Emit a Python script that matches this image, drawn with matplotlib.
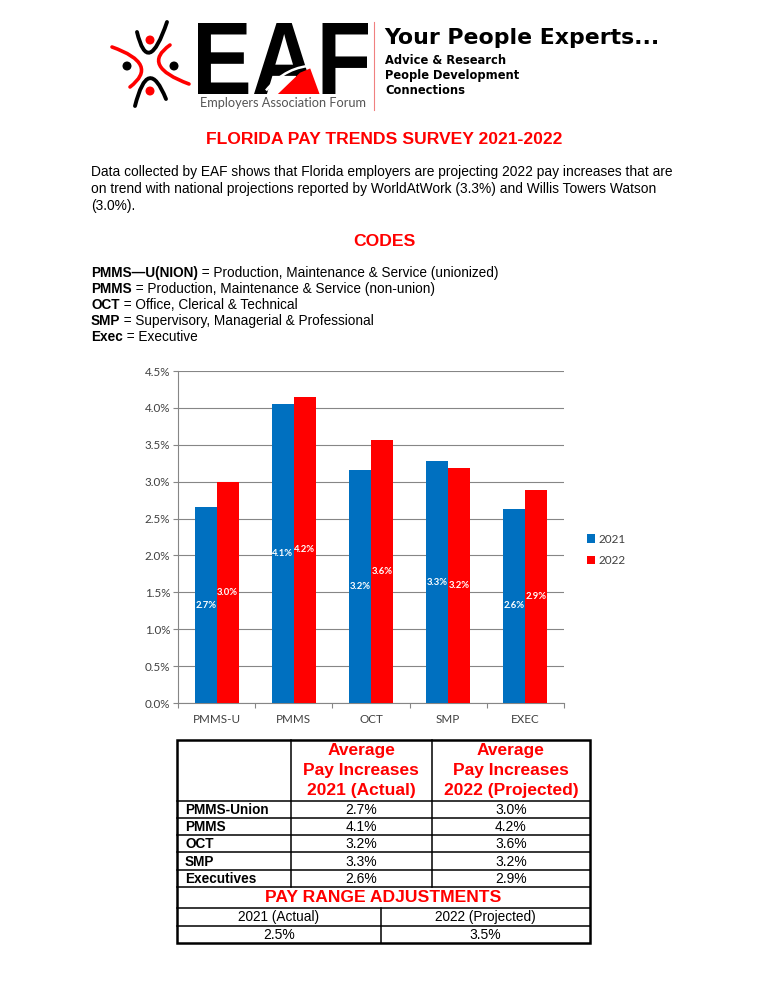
import numpy as np
import matplotlib
matplotlib.use("Agg")
import matplotlib.pyplot as plt
from matplotlib.path import Path
from matplotlib.patches import PathPatch, Polygon, Rectangle
from matplotlib.textpath import TextPath
from matplotlib.font_manager import FontProperties
from matplotlib.transforms import Affine2D

# ---------------- data ----------------
categories = ["PMMS-U", "PMMS", "OCT", "SMP", "EXEC"]
series_names = ["2021", "2022"]
values_2021 = [2.65, 4.05, 3.16, 3.28, 2.63]
values_2022 = [3.00, 4.15, 3.57, 3.19, 2.89]
labels_2021 = ["2.7%", "4.1%", "3.2%", "3.3%", "2.6%"]
labels_2022 = ["3.0%", "4.2%", "3.6%", "3.2%", "2.9%"]
y_ticks = [0.0, 0.5, 1.0, 1.5, 2.0, 2.5, 3.0, 3.5, 4.0, 4.5]

table_rows = ["PMMS-Union", "PMMS", "OCT", "SMP", "Executives"]
table_2021 = ["2.7%", "4.1%", "3.2%", "3.3%", "2.6%"]
table_2022 = ["3.0%", "4.2%", "3.6%", "3.2%", "2.9%"]
range_headers = ["2021 (Actual)", "2022 (Projected)"]
range_values = ["2.5%", "3.5%"]

codes_bold = ["PMMS\u2014U(NION)", "PMMS", "OCT", "SMP", "Exec"]
codes_text = [" = Production, Maintenance & Service (unionized)",
              " = Production, Maintenance & Service (non-union)",
              " = Office, Clerical & Technical",
              " = Supervisory, Managerial & Professional",
              " = Executive"]
body_lines = ["Data collected by EAF shows that Florida employers are projecting 2022 pay increases that are",
              "on trend with national projections reported by WorldAtWork (3.3%) and Willis Towers Watson",
              "(3.0%)."]

BLUE = "#0070C0"
RED = "#FF0000"
GRID = "#868686"
TXT = "#404040"
W, H = 768, 994

fig = plt.figure(figsize=(W / 100, H / 100), dpi=100)
fig.patch.set_facecolor("white")
bg = fig.add_axes([0, 0, 1, 1])
bg.set_xlim(0, W)
bg.set_ylim(H, 0)
bg.axis("off")

ARIAL = "Liberation Sans"

# ---------------- logo ----------------
def qcurve(p0, c, p1, color, lw):
    path = Path([p0, c, p1], [Path.MOVETO, Path.CURVE3, Path.CURVE3])
    bg.add_patch(PathPatch(path, facecolor="none", edgecolor=color, lw=lw, capstyle="round"))

qcurve((137, 32), (148, 78), (167, 22), "black", 2.8)
qcurve((135, 106), (148, 54), (166, 99), "black", 2.8)
qcurve((112, 47), (160, 64), (130, 87), RED, 2.6)
qcurve((170, 45), (140, 66), (189, 84), RED, 2.6)
for (cx, cy, col) in [(150, 40, RED), (150, 91, RED), (127, 66, "black"), (174, 66, "black")]:
    bg.add_patch(plt.Circle((cx, cy), 3.8, color=col))

X0, Y0, X1, Y1 = 198, 23, 368, 94
tp = TextPath((0, 0), "EAF", size=100, prop=FontProperties(family=ARIAL, weight="bold"))
bb = tp.get_extents()
tr = Affine2D().translate(-bb.x0, -bb.y0).scale((X1 - X0) / bb.width, -(Y1 - Y0) / bb.height).translate(X0, Y1)
bg.add_patch(PathPatch(tr.transform_path(tp), facecolor="black", edgecolor="none"))
def fx(f):
    return X0 + f * (X1 - X0)
def fy(f):
    return Y0 + f * (Y1 - Y0)
bg.add_patch(Polygon([(fx(0.47), fy(1.0)), (fx(0.60), fy(0.70)), (fx(0.66), fy(0.64)),
                      (fx(0.715), fy(1.0))], closed=True, facecolor=RED, edgecolor="none"))
sw = Path([(fx(0.40), fy(0.95)), (fx(0.52), fy(0.60)), (fx(0.69), fy(0.60))],
          [Path.MOVETO, Path.CURVE3, Path.CURVE3])
bg.add_patch(PathPatch(sw, facecolor="none", edgecolor="white", lw=1.8))
bg.text(200, 103, "Employers Association Forum", fontsize=9.2, family="Lato", color="#555555",
        va="center", ha="left")
bg.plot([374, 374], [22, 110], color="#F08080", lw=0.8)
bg.text(384, 38, "Your People Experts...", fontsize=15.8, family="DejaVu Sans", weight="bold",
        va="center", ha="left")
for i, s in enumerate(["Advice & Research", "People Development", "Connections"]):
    bg.text(385, 60 + i * 15.5, s, fontsize=8.3, family="DejaVu Sans", weight="bold",
            va="center", ha="left")

# ---------------- headings / body ----------------
bg.text(384, 140, "FLORIDA PAY TRENDS SURVEY 2021-2022", fontsize=12.6, family=ARIAL,
        weight="bold", color=RED, ha="center", va="center")
for i, s in enumerate(body_lines):
    bg.text(91, 172 + i * 17, s, fontsize=9.9, family=ARIAL, ha="left", va="center")
bg.text(384, 241, "CODES", fontsize=12.6, family=ARIAL, weight="bold", color=RED,
        ha="center", va="center")

renderer = fig.canvas.get_renderer()
for i, (b, t) in enumerate(zip(codes_bold, codes_text)):
    y = 273 + i * 16
    tb = bg.text(91, y, b, fontsize=9.8, family=ARIAL, weight="bold", ha="left", va="center")
    ext = tb.get_window_extent(renderer)
    xend = bg.transData.inverted().transform((ext.x1, ext.y0))[0]
    bg.text(xend, y, t, fontsize=9.8, family=ARIAL, ha="left", va="center")

# ---------------- chart ----------------
ax_l, ax_r, ax_t, ax_b = 178, 564, 371, 703
ax = fig.add_axes([ax_l / W, 1 - ax_b / H, (ax_r - ax_l) / W, (ax_b - ax_t) / H])
x = np.arange(len(categories))
bw = 0.285
b1 = ax.bar(x - bw / 2, values_2021, bw, color=BLUE, label=series_names[0], zorder=3)
b2 = ax.bar(x + bw / 2, values_2022, bw, color=RED, label=series_names[1], zorder=3)
for bars, labs in [(b1, labels_2021), (b2, labels_2022)]:
    for rect, lab in zip(bars, labs):
        ax.text(rect.get_x() + rect.get_width() / 2, rect.get_height() / 2, lab,
                ha="center", va="center", color="white", fontsize=6.8, family="Lato",
                weight="bold", zorder=4)
ax.set_xlim(-0.5, len(categories) - 0.5)
ax.set_ylim(0, 4.5)
ax.set_yticks(y_ticks)
ax.set_yticklabels([f"{v:.1f}%" for v in y_ticks])
ax.set_xticks(x)
ax.set_xticklabels(categories)
ax.set_xticks(np.arange(-0.5, len(categories)), minor=True)
ax.tick_params(axis="x", which="major", length=0, pad=8, labelsize=8.4, labelcolor=TXT)
ax.tick_params(axis="x", which="minor", length=3.6, color=GRID, width=0.8)
ax.tick_params(axis="y", length=3.6, color=GRID, width=0.8, pad=2, labelsize=8.4, labelcolor=TXT)
for lab in ax.get_xticklabels() + ax.get_yticklabels():
    lab.set_family("Lato")
ax.grid(axis="y", color=GRID, lw=0.8, zorder=0)
for s in ["top", "right"]:
    ax.spines[s].set_visible(False)
for s in ["left", "bottom"]:
    ax.spines[s].set_color(GRID)
    ax.spines[s].set_linewidth(0.8)
ax.set_facecolor("none")
leg = ax.legend(loc="center left", bbox_to_anchor=(576 / W, 1 - 550 / H),
                bbox_transform=fig.transFigure, frameon=False, handlelength=0.7,
                handleheight=0.7, handletextpad=0.3, labelspacing=0.9,
                prop={"family": "Lato", "size": 8.5})
for t in leg.get_texts():
    t.set_color(TXT)

# ---------------- table ----------------
tx = [177, 290.7, 431.7, 590]
ty = [740, 800.7, 817.7, 835, 852.3, 870, 886.7, 908.3, 925.7, 943.3]
xmid_bottom = 380.7
lw_in = 1.1
bg.add_patch(Rectangle((tx[0], ty[0]), tx[3] - tx[0], ty[-1] - ty[0], fill=False,
                       edgecolor="black", lw=1.8))
for yy in ty[1:-1]:
    bg.plot([tx[0], tx[3]], [yy, yy], color="black", lw=lw_in)
for xx in tx[1:3]:
    bg.plot([xx, xx], [ty[0], ty[6]], color="black", lw=lw_in)
bg.plot([xmid_bottom, xmid_bottom], [ty[7], ty[9]], color="black", lw=lw_in)

hdr1 = ["Average", "Pay Increases", "2021 (Actual)"]
hdr2 = ["Average", "Pay Increases", "2022 (Projected)"]
c1 = (tx[1] + tx[2]) / 2
c2 = (tx[2] + tx[3]) / 2
for i, (a, b) in enumerate(zip(hdr1, hdr2)):
    yy = 751 + i * 19.7
    bg.text(c1, yy, a, fontsize=12.5, family=ARIAL, weight="bold", color=RED, ha="center", va="center")
    bg.text(c2, yy, b, fontsize=12.5, family=ARIAL, weight="bold", color=RED, ha="center", va="center")
for i, (r, v1, v2) in enumerate(zip(table_rows, table_2021, table_2022)):
    yy = (ty[1 + i] + ty[2 + i]) / 2 + 0.5
    bg.text(185, yy, r, fontsize=9.8, family=ARIAL, weight="bold", ha="left", va="center")
    bg.text(c1, yy, v1, fontsize=10, family=ARIAL, ha="center", va="center")
    bg.text(c2, yy, v2, fontsize=10, family=ARIAL, ha="center", va="center")
bg.text((tx[0] + tx[3]) / 2, (ty[6] + ty[7]) / 2 + 0.5, "PAY RANGE ADJUSTMENTS", fontsize=12.6,
        family=ARIAL, weight="bold", color=RED, ha="center", va="center")
cb1 = (tx[0] + xmid_bottom) / 2
cb2 = (xmid_bottom + tx[3]) / 2
bg.text(cb1, (ty[7] + ty[8]) / 2 + 0.5, range_headers[0], fontsize=9.8, family=ARIAL, ha="center", va="center")
bg.text(cb2, (ty[7] + ty[8]) / 2 + 0.5, range_headers[1], fontsize=9.8, family=ARIAL, ha="center", va="center")
bg.text(cb1, (ty[8] + ty[9]) / 2 + 0.5, range_values[0], fontsize=10, family=ARIAL, ha="center", va="center")
bg.text(cb2, (ty[8] + ty[9]) / 2 + 0.5, range_values[1], fontsize=10, family=ARIAL, ha="center", va="center")

fig.savefig("out.png", dpi=100, facecolor="white")
